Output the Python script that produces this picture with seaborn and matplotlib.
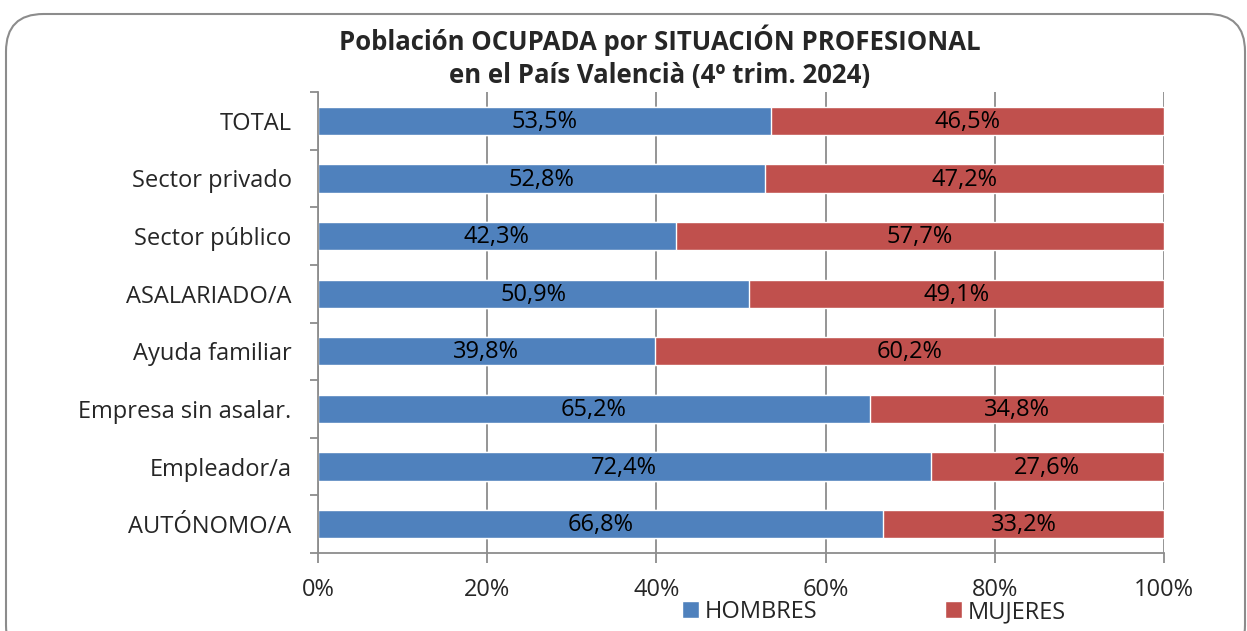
import matplotlib.pyplot as plt
import numpy as np
import pandas as pd
import seaborn as sns
from matplotlib.patches import FancyBboxPatch
from matplotlib.ticker import FixedLocator

# datos
categorias = ['TOTAL', 'Sector privado', 'Sector público', 'ASALARIADO/A',
              'Ayuda familiar', 'Empresa sin asalar.', 'Empleador/a', 'AUTÓNOMO/A']
hombres = [53.5, 52.8, 42.3, 50.9, 39.8, 65.2, 72.4, 66.8]
mujeres = [46.5, 47.2, 57.7, 49.1, 60.2, 34.8, 27.6, 33.2]

azul = '#4F81BD'
rojo = '#C0504D'
gris = '#8C8C8C'
fs = 17

sns.set_style("white")
plt.rcParams['font.family'] = ['Open Sans', 'DejaVu Sans']

df = pd.DataFrame({'cat': categorias, 'hombres': hombres, 'mujeres': mujeres})
df['total'] = df['hombres'] + df['mujeres']

fig = plt.figure(figsize=(12.47, 6.31), dpi=100)
ax = fig.add_axes([318/1247, 1 - 553/631, (1164 - 318)/1247, (553 - 92)/631])

# barras: total (rojo) debajo, hombres (azul) encima
sns.barplot(data=df, y='cat', x='total', color=rojo, saturation=1, width=0.49,
            orient='h', ax=ax, label='MUJERES')
sns.barplot(data=df, y='cat', x='hombres', color=azul, saturation=1, width=0.49,
            orient='h', ax=ax, label='HOMBRES')
handles, labels = ax.get_legend_handles_labels()
if ax.get_legend() is not None:
    ax.get_legend().remove()

# etiquetas de valores
for i, (h, m) in enumerate(zip(hombres, mujeres)):
    ax.text(h / 2, i + 0.02, f'{h:.1f}%'.replace('.', ','), ha='center', va='center',
            fontsize=fs, color='black')
    ax.text(h + m / 2, i + 0.02, f'{m:.1f}%'.replace('.', ','), ha='center', va='center',
            fontsize=fs, color='black')

ax.set_xlim(0, 100)
ax.set_ylim(len(categorias) - 0.5, -0.5)
ax.set_xticks([0, 20, 40, 60, 80, 100])
ax.set_xticklabels(['0%', '20%', '40%', '60%', '80%', '100%'], fontsize=fs)
ax.set_yticklabels(categorias, fontsize=fs)
ax.set_xlabel('')
ax.set_ylabel('')
ax.grid(axis='x', color=gris, linewidth=1.3)
ax.set_axisbelow(True)

for s in ['top', 'right']:
    ax.spines[s].set_visible(False)
for s in ['left', 'bottom']:
    ax.spines[s].set_color(gris)
    ax.spines[s].set_linewidth(1.3)

ax.yaxis.set_minor_locator(FixedLocator(np.arange(-0.5, len(categorias), 1)))
ax.tick_params(axis='y', which='major', length=0, pad=19)
ax.tick_params(axis='y', which='minor', length=6, width=1.3, color=gris, left=True)
ax.tick_params(axis='x', which='major', length=7, width=1.3, color=gris, bottom=True, pad=11)

# leyenda
orden = [labels.index('HOMBRES'), labels.index('MUJERES')]
fig.legend([handles[i] for i in orden], [labels[i] for i in orden],
           loc='center', bbox_to_anchor=(874/1247, 1 - 612/631), ncol=2,
           frameon=False, fontsize=fs, handlelength=0.7, handleheight=0.7,
           handletextpad=0.25, columnspacing=5.4, borderpad=0)

# título
fig.text(660/1247, 1 - 40/631, 'Población OCUPADA por SITUACIÓN PROFESIONAL',
         ha='center', va='center', fontsize=18.5, fontweight='bold')
fig.text(660/1247, 1 - 75/631, 'en el País Valencià (4º trim. 2024)',
         ha='center', va='center', fontsize=18.5, fontweight='bold')

# marco redondeado
marco = FancyBboxPatch((6/1247, -0.05), 1239/1247, 1 - 14/631 + 0.05,
                       boxstyle='round,pad=0,rounding_size=0.03',
                       transform=fig.transFigure, facecolor='none',
                       edgecolor=gris, linewidth=1.5, mutation_aspect=1247/631)
fig.patches.append(marco)

plt.savefig('out.png', dpi=100)
